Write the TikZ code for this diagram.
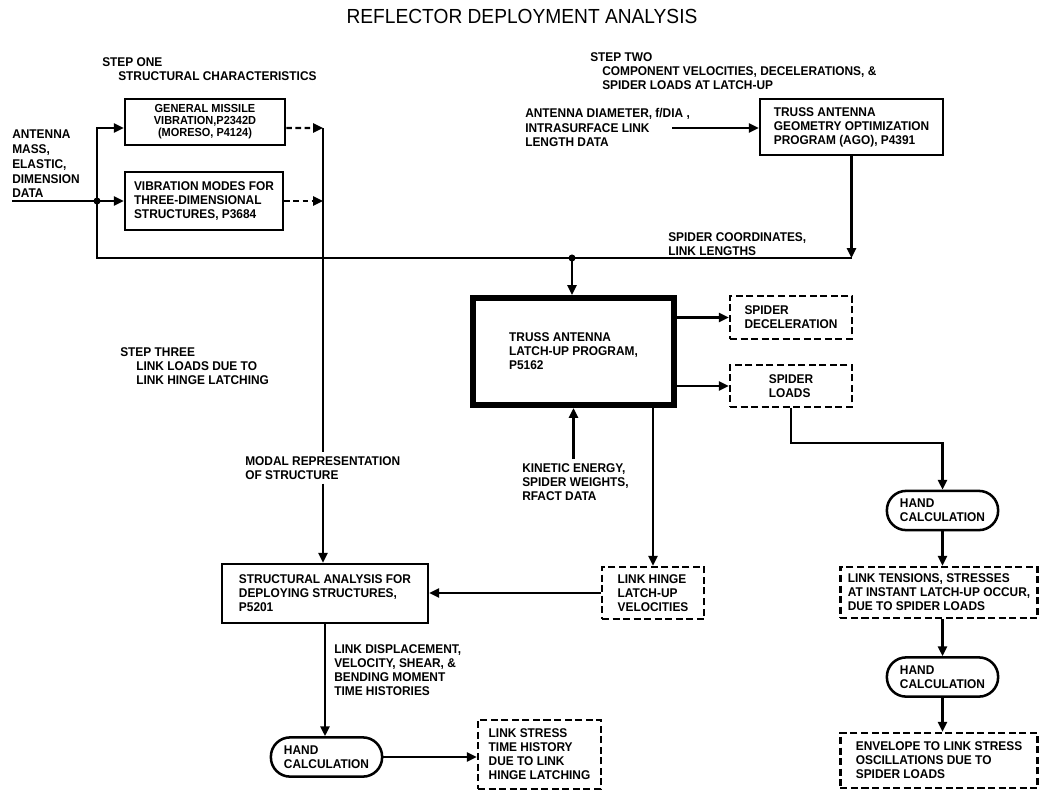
\documentclass[tikz,border=0pt]{standalone}
\usepackage{fontspec}
\setmainfont{Liberation Sans}[FakeStretch=0.94]
\usetikzlibrary{positioning,calc,arrows.meta}

\newcommand{\ind}{\hspace*{4mm}}

\begin{document}
\begin{tikzpicture}[
    x=0.025cm,
    y=-0.025cm,
    font=\bfseries\fontsize{9}{10}\selectfont,
    >={Triangle[length=7pt,width=6.5pt]},
    progbox/.style={draw, line width=1.8pt, align=left, inner sep=0pt},
    outbox/.style={draw, line width=1.8pt, dash pattern=on 5pt off 2.5pt, align=left, inner sep=0pt},
    handbox/.style={draw, line width=1.8pt, rounded corners=0.48cm, align=left, inner sep=0pt, minimum width=2.78cm, minimum height=0.98cm},
    latchbox/.style={draw, line width=4.5pt, align=left, inner sep=0pt},
    note/.style={align=left, inner sep=0pt, anchor=west},
    flow/.style={->, line width=1.5pt},
    auxflow/.style={->, line width=1.5pt, dash pattern=on 4pt off 2.5pt},
    bus/.style={line width=1.5pt}
]
\useasboundingbox (0,0) rectangle (1041,791);

% Title and step headings.
\node[font=\mdseries\fontsize{14.5}{16}\selectfont] (title) at (522,16) {REFLECTOR DEPLOYMENT ANALYSIS};
\node[note] (step1) at (102,69) {STEP ONE\\\ind STRUCTURAL CHARACTERISTICS};
\node[note] (step2) at (590,71) {STEP TWO\\\hspace*{3mm}COMPONENT VELOCITIES, DECELERATIONS, \&\\\hspace*{3mm}SPIDER LOADS AT LATCH-UP};
\node[note] (step3) at (120,366) {STEP THREE\\\ind LINK LOADS DUE TO\\\ind LINK HINGE LATCHING};

% Step one: structural characteristics.
\node[note, font=\bfseries\fontsize{9}{10.5}\selectfont] (antdata) at (12,164) {ANTENNA\\MASS,\\ELASTIC,\\DIMENSION\\DATA};
\node[progbox, align=center, font=\bfseries\fontsize{8.3}{8.6}\selectfont, minimum width=4.0cm, minimum height=1.15cm] (gms) at (205,122) {GENERAL MISSILE\\VIBRATION,P2342D\\(MORESO, P4124)};
\node[progbox, minimum width=3.95cm, minimum height=1.45cm] (vmodes) at (204,201) {VIBRATION MODES FOR\\THREE-DIMENSIONAL\\STRUCTURES, P3684};

% Step two: geometry and latch-up.
\node[note] (geomdata) at (525,127.5) {ANTENNA DIAMETER, f/DIA ,\\INTRASURFACE LINK\\LENGTH DATA};
\node[progbox, minimum width=4.575cm, minimum height=1.4cm] (ago) at (851.5,127) {TRUSS ANTENNA\\GEOMETRY OPTIMIZATION\\PROGRAM (AGO), P4391};
\node[note] (coords) at (668,244) {SPIDER COORDINATES,\\LINK LENGTHS};
\node[latchbox, minimum width=5.02cm, minimum height=2.67cm] (latch) at (573.5,351.5) {TRUSS ANTENNA\\LATCH-UP PROGRAM,\\P5162};
\node[outbox, minimum width=3.05cm, minimum height=1.075cm] (decel) at (791,317.5) {SPIDER\\DECELERATION};
\node[outbox, minimum width=3.05cm, minimum height=1.05cm] (loads) at (791,386) {SPIDER\\LOADS};
\node[note, outer ysep=3pt] (kinetic) at (522,482) {KINETIC ENERGY,\\SPIDER WEIGHTS,\\RFACT DATA};
\node[outbox, minimum width=2.55cm, minimum height=1.3cm] (hinge) at (653,593) {LINK HINGE\\LATCH-UP\\VELOCITIES};

% Step three: link loads.
\node[note, outer ysep=3pt] (modal) at (245,468) {MODAL REPRESENTATION\\OF STRUCTURE};
\node[progbox, minimum width=5.15cm, minimum height=1.475cm] (sa) at (325,593.5) {STRUCTURAL ANALYSIS FOR\\DEPLOYING STRUCTURES,\\P5201};
\node[note] (histories) at (334,670) {LINK DISPLACEMENT,\\VELOCITY, SHEAR, \&\\BENDING MOMENT\\TIME HISTORIES};
\node[handbox] (hand3) at (326.5,757) {HAND\\CALCULATION};
\node[outbox, minimum width=3.075cm, minimum height=1.725cm] (stress) at (539.5,754.5) {LINK STRESS\\TIME HISTORY\\DUE TO LINK\\HINGE LATCHING};

% Spider load branch.
\node[handbox] (hand1) at (942.5,510.5) {HAND\\CALCULATION};
\node[outbox, minimum width=4.93cm, minimum height=1.275cm] (tensions) at (939,592.5) {LINK TENSIONS, STRESSES\\AT INSTANT LATCH-UP OCCUR,\\DUE TO SPIDER LOADS};
\node[handbox] (hand2) at (942.5,677) {HAND\\CALCULATION};
\node[outbox, minimum width=4.93cm, minimum height=1.375cm] (envelope) at (939,760.5) {ENVELOPE TO LINK STRESS\\OSCILLATIONS DUE TO\\SPIDER LOADS};

% Junction points.
\coordinate (inStart) at (12,201);
\coordinate (split) at (97,201);
\coordinate (merge) at (572,258);
\coordinate (busTop) at (323,128);
\coordinate (agoDrop) at (ago.south |- merge);
\coordinate (geomStart) at (672,128);

% Input distribution.
\draw[bus] (inStart) -- (split);
\draw[flow] (split) |- ([yshift=-0.15cm]gms.west);
\draw[flow] (split) -- (vmodes.west);
\draw[bus] (split) |- (merge) -- (agoDrop);
\fill (split) circle (2.5pt);
\fill (merge) circle (2.5pt);

% Modal data down to the structural analysis.
\draw[auxflow] ([yshift=-0.15cm]gms.east) -- (busTop);
\draw[auxflow] (vmodes.east) -- (vmodes.east -| busTop);
\draw[bus] (busTop) -- (busTop |- modal.north);
\draw[flow] (busTop |- modal.south) -- (busTop |- sa.north);

% Geometry and latch-up flows.
\draw[flow] (geomStart) -- (geomStart -| ago.west);
\draw[flow] (ago.south) -- (agoDrop);
\draw[flow] (merge) -- (merge |- latch.north);
\draw[flow] (latch.east |- decel.west) -- (decel.west);
\draw[flow] (latch.east |- loads.west) -- (loads.west);
\draw[flow] (latch.south |- kinetic.north) -- (latch.south);
\draw[flow] (hinge.north |- latch.south) -- (hinge.north);
\draw[flow] (hinge.west) -- (hinge.west -| sa.east);

% Stress calculations.
\draw[flow] (sa.south) -- (sa.south |- hand3.north);
\draw[flow] (hand3.east) -- (hand3.east -| stress.west);
\draw[flow] (loads.south) -- ++(0,35) -| (hand1.north);
\draw[flow] (hand1.south) -- (hand1.south |- tensions.north);
\draw[flow] (hand1.south |- tensions.south) -- (hand2.north);
\draw[flow] (hand2.south) -- (hand2.south |- envelope.north);

\end{tikzpicture}
\end{document}
